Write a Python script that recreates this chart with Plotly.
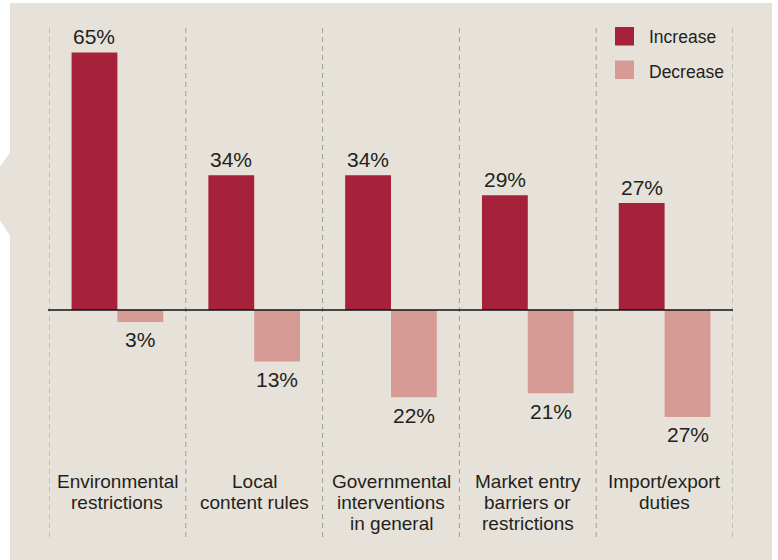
import plotly.graph_objects as go

categories = [
    "Environmental<br>restrictions",
    "Local<br>content rules",
    "Governmental<br>interventions<br>in general",
    "Market entry<br>barriers or<br>restrictions",
    "Import/export<br>duties",
]
increase = [65, 34, 34, 29, 27]
decrease = [3, 13, 22, 21, 27]
series_names = ["Increase", "Decrease"]
colors = ["#A6213A", "#D79B96"]

BG = "#E6E2D9"
TEXT = "#231F20"
FONT = "Liberation Sans, Arial, sans-serif"
W, H = 778, 560
ML, MR, MT, MB = 49, 45, 26, 23
PW, PH = W - ML - MR, H - MT - MB


def px_x(p):
    return (p - ML) / PW


def px_y(p):
    return (H - MB - p) / PH


xs = list(range(len(categories)))

fig = go.Figure()
fig.add_trace(go.Bar(x=xs, y=increase, name=series_names[0],
                     marker=dict(color=colors[0], line=dict(width=0)),
                     showlegend=False, hoverinfo="skip"))
fig.add_trace(go.Bar(x=xs, y=[-v for v in decrease], name=series_names[1],
                     marker=dict(color=colors[1], line=dict(width=0)),
                     showlegend=False, hoverinfo="skip"))

shapes = []
# beige panel
shapes.append(dict(type="rect", xref="paper", yref="paper",
                   x0=px_x(10), x1=px_x(772), y0=px_y(561), y1=px_y(3),
                   fillcolor=BG, line=dict(width=0), layer="below"))
# chevron fragment on left edge
path = "M {} {} L {} {} L {} {} L {} {} Z".format(
    px_x(11), px_y(151), px_x(-1), px_y(168),
    px_x(-1), px_y(219), px_x(11), px_y(237))
shapes.append(dict(type="path", xref="paper", yref="paper", path=path,
                   fillcolor=BG, line=dict(width=0), layer="below"))
# dashed dividers
for i in range(len(categories) + 1):
    shapes.append(dict(type="line", xref="x", yref="paper",
                       x0=i - 0.5, x1=i - 0.5, y0=0, y1=1,
                       line=dict(color="#9C9C9C", width=1, dash="5px,4px"),
                       layer="below"))
# zero line
shapes.append(dict(type="line", xref="paper", yref="y",
                   x0=px_x(48), x1=1, y0=0, y1=0,
                   line=dict(color="#111111", width=1.5), layer="above"))
# manual legend swatches
for k, c in enumerate(colors):
    top = 27 + k * 33.5
    shapes.append(dict(type="rect", xref="paper", yref="paper",
                       x0=px_x(615), x1=px_x(634), y0=px_y(top + 18.5), y1=px_y(top),
                       fillcolor=c, line=dict(width=0), layer="above"))

annotations = []
BW = 0.335
for i, (inc, dec) in enumerate(zip(increase, decrease)):
    annotations.append(dict(x=i - BW / 2, y=inc, xref="x", yref="y",
                            text=f"{inc}%", showarrow=False, yanchor="middle",
                            yshift=16, font=dict(family=FONT, size=21, color=TEXT)))
    annotations.append(dict(x=i + BW / 2, y=-dec, xref="x", yref="y",
                            text=f"{dec}%", showarrow=False, yanchor="middle",
                            yshift=-18, font=dict(family=FONT, size=21, color=TEXT)))
    for j, line in enumerate(categories[i].split("<br>")):
        annotations.append(dict(x=i, y=px_y(481), xref="x", yref="paper",
                                text=line, showarrow=False, yanchor="middle",
                                yshift=-21 * j,
                                font=dict(family=FONT, size=19, color=TEXT)))
for k, name in enumerate(series_names):
    annotations.append(dict(x=px_x(647), y=px_y(37 + k * 34.5), xref="paper", yref="paper",
                            text=name, showarrow=False, xanchor="left", yanchor="middle",
                            font=dict(family=FONT, size=17.5, color=TEXT)))

fig.update_layout(
    width=W, height=H,
    margin=dict(l=ML, r=MR, t=MT, b=MB, pad=0),
    paper_bgcolor="white", plot_bgcolor=BG,
    barmode="group", bargap=0.33, bargroupgap=0,
    xaxis=dict(range=[-0.5, len(categories) - 0.5], showticklabels=False,
               showgrid=False, zeroline=False, showline=False, ticks=""),
    yaxis=dict(range=[-57.3, 71.7], showticklabels=False, showgrid=False,
               zeroline=False, showline=False, ticks=""),
    shapes=shapes, annotations=annotations,
)

fig.write_html("out.html", config={"displayModeBar": False},
               post_script="document.body.style.margin='0';document.body.style.overflow='hidden';")
